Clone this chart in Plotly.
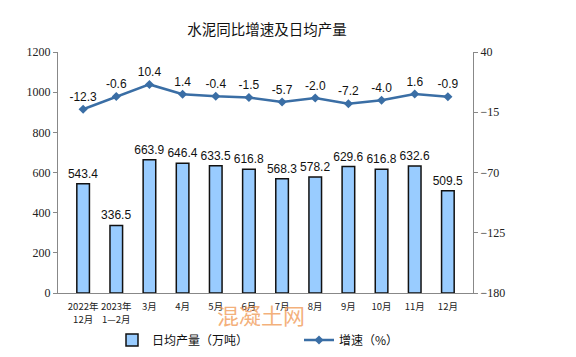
import plotly.graph_objects as go

categories = ["2022年<br>12月", "2023年<br>1—2月", "3月", "4月", "5月", "6月",
              "7月", "8月", "9月", "10月", "11月", "12月"]
daily_output = [543.4, 336.5, 663.9, 646.4, 633.5, 616.8, 568.3, 578.2, 629.6, 616.8, 632.6, 509.5]
growth = [-12.3, -0.6, 10.4, 1.4, -0.4, -1.5, -5.7, -2.0, -7.2, -4.0, 1.6, -0.9]
left_ticks = [0, 200, 400, 600, 800, 1000, 1200]
right_ticks = [-180, -125, -70, -15, 40]

# the page puts the figure 8px below the window top
W, H = 576, 349
L, R, T, B = 50, 111, 44, 64
PW, PH = W - L - R, H - T - B

fig = go.Figure()
fig.add_trace(go.Bar(
    x=categories, y=daily_output, name="日均产量（万吨）",
    marker=dict(color="#99CCFF", line=dict(color="#111111", width=1.5)),
    width=0.38,
    text=[f"{v:.1f}" for v in daily_output], textposition="outside",
    constraintext="none",
    textfont=dict(family="Liberation Sans, Arial", size=12, color="#111111"),
    cliponaxis=False, legend="legend",
))
fig.add_trace(go.Scatter(
    x=categories, y=growth, name="增速（%）", yaxis="y2",
    mode="lines+markers+text",
    line=dict(color="#3A6EA5", width=2.5),
    marker=dict(symbol="diamond", size=7, color="#3A6EA5"),
    text=[f"{v:.1f}" for v in growth], textposition="top center",
    textfont=dict(family="Liberation Sans, Arial", size=12, color="#111111"),
    cliponaxis=False, legend="legend2",
))

legend_common = dict(orientation="h", xref="container", yref="container",
                     xanchor="left", yanchor="middle", y=1 - 332/H,
                     font=dict(family="Noto Sans CJK SC", size=12, color="#111111"),
                     bgcolor="rgba(0,0,0,0)")

fig.update_layout(
    width=W, height=H,
    margin=dict(l=L, r=R, t=T, b=B, autoexpand=False),
    paper_bgcolor="white", plot_bgcolor="white",
    title=dict(text="水泥同比增速及日均产量", x=259/W, xanchor="center",
               y=1 - 22/H, yanchor="middle",
               font=dict(family="Noto Sans CJK SC", size=14.5, color="#111111")),
    showlegend=True,
    legend=dict(x=104/W, **legend_common),
    legend2=dict(x=291/W, **legend_common),
    xaxis=dict(showline=True, linecolor="#888888", linewidth=1, tickangle=0,
               ticks="", ticklabelstandoff=5, automargin=False,
               tickfont=dict(family="Noto Sans CJK SC", size=9.5, color="#222222"),
               showgrid=False),
    yaxis=dict(range=[0, 1200], tickvals=left_ticks, showline=True, linecolor="#888888",
               linewidth=1, ticks="outside", ticklen=4, tickcolor="#888888",
               showgrid=False, zeroline=False, automargin=False,
               tickfont=dict(family="Liberation Serif", size=12, color="#222222")),
    yaxis2=dict(range=[-180, 40], tickvals=right_ticks, overlaying="y", side="right",
                showline=True, linecolor="#888888", linewidth=1,
                ticks="outside", ticklen=4, tickcolor="#888888",
                showgrid=False, zeroline=False, automargin=False,
                tickfont=dict(family="Liberation Serif", size=12, color="#222222")),
    bargap=0.6,
)

fig.add_annotation(text="混凝土网", x=(253 - L)/PW, y=(285 - 306)/PH, xref="paper", yref="paper",
                   showarrow=False, xanchor="center", yanchor="middle",
                   font=dict(family="Noto Sans CJK SC", size=22, color="rgba(240,150,80,0.75)"))

fig.write_html("out.html")
